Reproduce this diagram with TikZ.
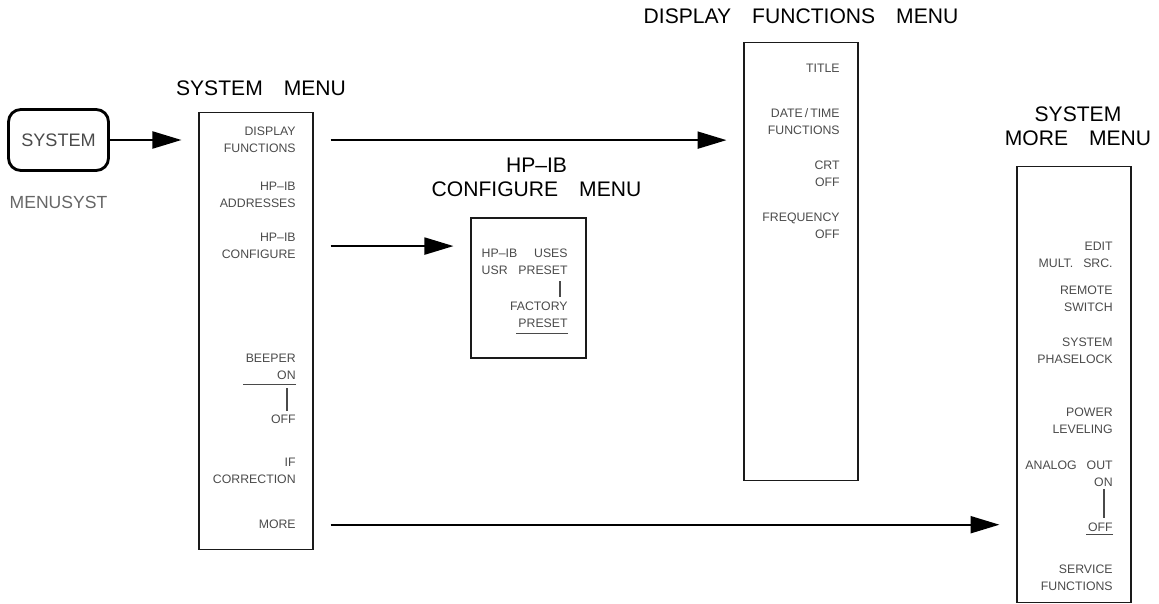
\documentclass[tikz,border=0pt]{standalone}
\usepackage{fontspec}
\setmainfont{Liberation Sans}
\usepackage{xcolor}
\usepackage{tikz}
\usetikzlibrary{arrows.meta,positioning}
\definecolor{hpInk}{HTML}{1A1A1A}
\definecolor{hpSoft}{HTML}{4A4A4A}
\definecolor{hpFaint}{HTML}{666666}
\newcommand{\tgap}{\hspace{0.42cm}}
\newcommand{\kgap}{\hspace{0.2cm}}
\tikzset{
  menubox/.style={draw=hpInk, line width=0.6pt, minimum width=2.28cm, inner sep=0pt},
  menutitle/.style={font=\fontsize{12}{14}\selectfont, text=black, align=center, inner sep=0pt},
  softkey/.style={font=\fontsize{7}{9.6}\selectfont, text=hpSoft, align=right, anchor=north east, inner sep=0pt},
  hardkey/.style={draw=black, line width=1.6pt, rounded corners=7pt, minimum width=2.0cm, minimum height=1.22cm, font=\fontsize{10.3}{12}\selectfont, text=hpSoft},
  arrmenu/.style={-{Triangle[length=0.58cm, width=0.34cm]}, line width=1.2pt, shorten <=0.34cm, shorten >=0.34cm},
  switchbar/.style={line width=0.6pt, draw=hpSoft},
}

\begin{document}
\begin{tikzpicture}[x=0.02cm, y=-0.02cm]
\useasboundingbox (0,0) rectangle (1159,604);

% front panel key
\node[hardkey] (key) at (58.5,140) {SYSTEM};
\node[below=0.48cm of key, inner sep=0pt, font=\fontsize{10}{12}\selectfont, text=hpFaint] (keyname) {MENUSYST};

% system menu
\node[menubox, minimum height=8.76cm] (sysmenu) at (256,331) {};
\node[menutitle, above=0.3cm of sysmenu, xshift=0.1cm] (systitle) {SYSTEM\tgap MENU};
\node[softkey] (sysdisp) at (296,127) {DISPLAY\\FUNCTIONS};
\node[softkey] (sysaddr) at (296,182) {HP--IB\\ADDRESSES};
\node[softkey] (syscfg) at (296,233) {HP--IB\\CONFIGURE};
\node[softkey] (sysbeep) at (296,354) {BEEPER\\ON};
\node[softkey] (sysoff) at (296,415) {OFF};
\node[softkey] (sysifc) at (296,458) {IF\\CORRECTION};
\node[softkey] (sysmore) at (296,520) {MORE};
\draw[switchbar] (sysbeep.south east) ++(0,4) -- ++(-53,0);
\draw[switchbar] (sysbeep.south east) ++(-9,8) -- ++(0,23);

% hp-ib configure menu
\node[menubox, minimum width=2.3cm, minimum height=2.8cm] (hpibmenu) at (528.5,288) {};
\node[menutitle, above=0.4cm of hpibmenu, xshift=0.16cm] (hpibtitle) {HP--IB\\CONFIGURE\tgap MENU};
\node[softkey, text width=1.72cm, align=left] (hpibuses) at (568,249) {HP--IB\hfill USES\\USR\hfill PRESET};
\node[softkey] (hpibfac) at (568,302) {FACTORY\\PRESET};
\draw[switchbar] (hpibuses.south east) ++(-8,6) -- ++(0,16);
\draw[switchbar] (hpibfac.south east) ++(0,5) -- ++(-52,0);

% display functions menu
\node[menubox, minimum height=8.78cm] (dispmenu) at (801,261.5) {};
\node[menutitle, above=0.34cm of dispmenu] (disptitle) {DISPLAY\tgap FUNCTIONS\tgap MENU};
\node[softkey] (disptitle1) at (840,64) {TITLE};
\node[softkey] (dispdate) at (840,108) {DATE\,/\,TIME\\FUNCTIONS};
\node[softkey] (dispcrt) at (840,161) {CRT\\OFF};
\node[softkey] (dispfreq) at (840,213) {FREQUENCY\\OFF};

% system more menu
\node[menubox, minimum height=8.73cm] (moremenu) at (1074,384.25) {};
\node[menutitle, above=0.38cm of moremenu, xshift=0.08cm] (moretitle) {SYSTEM\\MORE\tgap MENU};
\node[softkey] (moreedit) at (1113,242) {EDIT\\MULT.\kgap SRC.};
\node[softkey] (moreremote) at (1113,286) {REMOTE\\SWITCH};
\node[softkey] (morephase) at (1113,338) {SYSTEM\\PHASELOCK};
\node[softkey] (morepower) at (1113,408) {POWER\\LEVELING};
\node[softkey] (moreanalog) at (1113,461) {ANALOG\kgap OUT\\ON};
\node[softkey] (moreoff) at (1113,523) {OFF};
\node[softkey] (moresvc) at (1113,565) {SERVICE\\FUNCTIONS};
\draw[switchbar] (moreanalog.south east) ++(-9,2) -- ++(0,29);
\draw[switchbar] (moreoff.south east) ++(0,2) -- ++(-27,0);

% menu paths
\draw[arrmenu, shorten <=0pt] (key) -- (sysmenu.west |- key);
\draw[arrmenu] (sysmenu.east |- sysdisp) -- (dispmenu.west |- sysdisp);
\draw[arrmenu] (sysmenu.east |- syscfg) -- (hpibmenu.west |- syscfg);
\draw[arrmenu] (sysmenu.east |- sysmore) -- (moremenu.west |- sysmore);
\end{tikzpicture}
\end{document}
